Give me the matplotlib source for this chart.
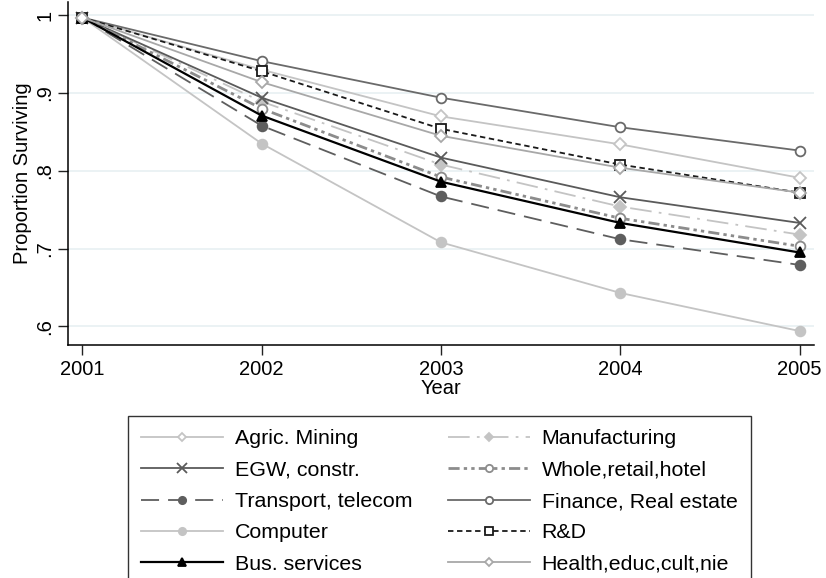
import matplotlib
matplotlib.use("Agg")
import matplotlib.pyplot as plt

plt.rcParams['font.family'] = ['Liberation Sans', 'DejaVu Sans']

years = [2001, 2002, 2003, 2004, 2005]

# survival rates by sector
agric = [0.997, 0.930, 0.870, 0.834, 0.791]
manuf = [0.997, 0.889, 0.808, 0.754, 0.718]
egw = [0.997, 0.894, 0.817, 0.766, 0.733]
whole = [0.997, 0.880, 0.792, 0.739, 0.703]
transport = [0.997, 0.858, 0.767, 0.712, 0.679]
finance = [0.997, 0.941, 0.894, 0.856, 0.826]
computer = [0.997, 0.835, 0.708, 0.643, 0.594]
rnd = [0.997, 0.928, 0.854, 0.808, 0.772]
bus = [0.997, 0.871, 0.786, 0.733, 0.695]
health = [0.997, 0.914, 0.845, 0.804, 0.772]

labels = ["Agric. Mining", "Manufacturing", "EGW, constr.", "Whole,retail,hotel",
          "Transport, telecom", "Finance, Real estate", "Computer", "R&D",
          "Bus. services", "Health,educ,cult,nie"]
yticks = [0.6, 0.7, 0.8, 0.9, 1.0]
ytick_labels = [".6", ".7", ".8", ".9", "1"]

# (values, color, linestyle, linewidth, marker, filled)
styles = [
    (agric, "#c4c4c4", "-", 1.3, "D", False),
    (manuf, "#c4c4c4", (0, (12, 4, 1.5, 4)), 1.3, "D", True),
    (egw, "#5a5a5a", "-", 1.3, "x", True),
    (whole, "#8c8c8c", (0, (4, 1.5, 1.2, 1.5, 1.2, 1.5)), 2.0, "o", False),
    (transport, "#5e5e5e", (0, (10, 5)), 1.3, "o", True),
    (finance, "#6a6a6a", "-", 1.3, "o", False),
    (computer, "#c4c4c4", "-", 1.3, "o", True),
    (rnd, "#1a1a1a", (0, (3, 2)), 1.3, "s", False),
    (bus, "#000000", "-", 1.6, "^", True),
    (health, "#a8a8a8", "-", 1.3, "D", False),
]

FS = 14.5
LEG_FS = 15.4

fig = plt.figure(figsize=(8.26, 5.78), dpi=100)
ax = fig.add_axes([0.0823, 0.403, 0.9032, 0.5935])

handles = []
for (vals, col, ls, lw, mk, filled), lab in zip(styles, labels):
    ms = 6 if mk == "D" else 7
    if mk == "x":
        ms = 9
    h, = ax.plot(years, vals, color=col, linestyle=ls, linewidth=lw,
                 marker=mk, markersize=ms, markeredgewidth=1.3,
                 markerfacecolor=col if filled else "white",
                 markeredgecolor=col, label=lab)
    handles.append(h)

ax.set_xlim(2000.92, 2005.08)
ax.set_ylim(0.576, 1.017)
ax.set_xticks(years)
ax.set_yticks(yticks)
ax.set_yticklabels(ytick_labels, rotation=90, va="center")
ax.tick_params(axis="both", direction="out", length=7, width=1, labelsize=FS,
               color="#222222")
ax.tick_params(axis="y", pad=3)
ax.tick_params(axis="x", pad=4)
ax.grid(axis="y", color="#e8f0f2", linewidth=1.2)
ax.set_axisbelow(True)
for side in ["top", "right"]:
    ax.spines[side].set_visible(False)
for side in ["left", "bottom"]:
    ax.spines[side].set_linewidth(1.1)
ax.set_xlabel("Year", fontsize=FS, labelpad=0)
ax.set_ylabel("Proportion Surviving", fontsize=FS, labelpad=2)

# legend: two columns, read down then across; box runs past the bottom edge
order = [0, 2, 4, 6, 8, 1, 3, 5, 7, 9]
leg = fig.legend([handles[i] for i in order], [labels[i] for i in order],
                 ncol=2, loc="upper left", bbox_to_anchor=(128 / 826, 1 - 416 / 578),
                 frameon=True, fancybox=False, edgecolor="black", fontsize=LEG_FS,
                 handlelength=3.83, handletextpad=0.56, columnspacing=1.64,
                 labelspacing=0.58, borderpad=0.62, borderaxespad=0,
                 markerscale=0.75)
leg.get_frame().set_linewidth(1.0)

fig.savefig("out.png", dpi=100)
